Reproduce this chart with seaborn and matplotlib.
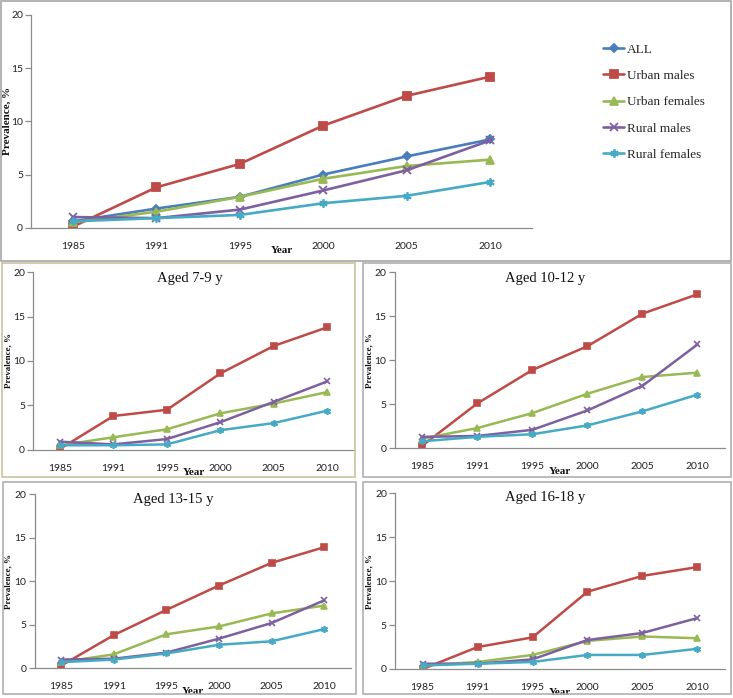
import numpy as np
import pandas as pd
import seaborn as sns
import matplotlib
matplotlib.use("Agg")
import matplotlib.pyplot as plt
from matplotlib.colors import to_hex
from matplotlib.patches import Rectangle

sns.set_theme(style="white")
plt.rcParams['font.family'] = ['Lato', 'DejaVu Sans']

years = ["1985", "1991", "1995", "2000", "2005", "2010"]
series = ["ALL", "Urban males", "Urban females", "Rural males", "Rural females"]

# Overall panel
all_total = [0.6, 1.8, 2.9, 5.0, 6.7, 8.3]
all_urban_m = [0.1, 3.8, 6.0, 9.6, 12.4, 14.2]
all_urban_f = [0.5, 1.5, 2.9, 4.6, 5.8, 6.4]
all_rural_m = [1.0, 0.9, 1.7, 3.5, 5.4, 8.2]
all_rural_f = [0.6, 0.9, 1.2, 2.3, 3.0, 4.3]

# Aged 7-9 y
a79_urban_m = [0.1, 3.8, 4.5, 8.6, 11.7, 13.8]
a79_urban_f = [0.5, 1.4, 2.3, 4.1, 5.2, 6.5]
a79_rural_m = [0.9, 0.6, 1.2, 3.1, 5.4, 7.7]
a79_rural_f = [0.5, 0.5, 0.6, 2.2, 3.0, 4.4]

# Aged 10-12 y
a1012_urban_m = [0.3, 5.1, 8.9, 11.6, 15.3, 17.5]
a1012_urban_f = [1.1, 2.3, 4.0, 6.2, 8.1, 8.6]
a1012_rural_m = [1.3, 1.4, 2.1, 4.3, 7.1, 11.8]
a1012_rural_f = [0.8, 1.3, 1.6, 2.6, 4.2, 6.1]

# Aged 13-15 y
a1315_urban_m = [0.3, 3.8, 6.7, 9.5, 12.1, 13.9]
a1315_urban_f = [0.7, 1.6, 3.9, 4.8, 6.3, 7.2]
a1315_rural_m = [1.0, 1.1, 1.8, 3.4, 5.2, 7.8]
a1315_rural_f = [0.7, 1.0, 1.7, 2.7, 3.1, 4.5]

# Aged 16-18 y
a1618_urban_m = [0.0, 2.5, 3.6, 8.8, 10.6, 11.6]
a1618_urban_f = [0.4, 0.8, 1.6, 3.2, 3.7, 3.5]
a1618_rural_m = [0.6, 0.6, 1.1, 3.3, 4.1, 5.8]
a1618_rural_f = [0.4, 0.6, 0.8, 1.6, 1.6, 2.3]

colors = {"ALL": "#4a7ebb", "Urban males": "#be4b48", "Urban females": "#98b954",
          "Rural males": "#7d60a0", "Rural females": "#46aac5"}
markers = {"ALL": "D", "Urban males": "s", "Urban females": "^",
           "Rural males": "x", "Rural females": (6, 2, 0)}
msize_scale = {"ALL": 0.72, "Urban males": 1.0, "Urban females": 1.0,
               "Rural males": 1.0, "Rural females": 1.0}

W, H = 733, 698
fig = plt.figure(figsize=(W / 100, H / 100), dpi=100)


def px_axes(left, right, top, bottom):
    return fig.add_axes([left / W, 1 - bottom / H, (right - left) / W, (bottom - top) / H])


def make_df(d):
    rows = []
    for name, vals in d.items():
        for y, v in zip(years, vals):
            rows.append({"Year": y, "Prevalence": v, "Series": name})
    return pd.DataFrame(rows)


def resize_markers(ax, base, extra=()):
    color_to_name = {to_hex(c): n for n, c in colors.items()}
    for ln in list(ax.lines) + list(extra):
        name = color_to_name.get(to_hex(ln.get_color()))
        if name is not None:
            ln.set_markersize(base * msize_scale[name])


def style_axes(ax, ylab_size, xlab_pad, ylab_x):
    ax.set_xlim(-0.5, 5.5)
    ax.set_ylim(0, 20)
    ax.set_yticks([0, 5, 10, 15, 20])
    for s in ["top", "right"]:
        ax.spines[s].set_visible(False)
    for s in ["left", "bottom"]:
        ax.spines[s].set_color("#8c8c8c")
        ax.spines[s].set_linewidth(0.9)
    ax.set_xticks(range(6))
    ax.set_xticklabels(years)
    ax.set_xticks(np.arange(-0.5, 6, 1), minor=True)
    ax.tick_params(axis="x", which="major", length=0, pad=10, labelsize=7.5, labelcolor="#222222")
    ax.tick_params(axis="x", which="minor", length=4, color="#8c8c8c", width=0.9, direction="out")
    ax.tick_params(axis="y", which="major", length=4, color="#8c8c8c", width=0.9, direction="out",
                   labelsize=7.5, labelcolor="#222222", pad=2, left=True)
    ax.set_xlabel("Year", fontfamily="Liberation Serif", fontweight="bold", fontsize=8,
                  labelpad=xlab_pad, color="#111111")
    ax.set_ylabel("Prevalence, %", fontfamily="Liberation Serif", fontweight="bold",
                  fontsize=ylab_size, color="#111111")
    ax.yaxis.set_label_coords(ylab_x, 0.5)
    ax.set_facecolor("none")


# Top panel
ax0 = px_axes(31.3, 531.7, 15, 227.7)
df0 = make_df({"ALL": all_total, "Urban males": all_urban_m, "Urban females": all_urban_f,
               "Rural males": all_rural_m, "Rural females": all_rural_f})
sns.pointplot(data=df0, x="Year", y="Prevalence", hue="Series", hue_order=series,
              order=years, palette=colors, markers=[markers[s] for s in series],
              linestyles="-", errorbar=None, ax=ax0, markersize=6, linewidth=1.9,
              markeredgewidth=1.3)
handles, labels = ax0.get_legend_handles_labels()
resize_markers(ax0, 6, handles)
if ax0.get_legend() is not None:
    ax0.get_legend().remove()
style_axes(ax0, 8, -3, (12 - 31.3) / 500.4)
fig.legend(handles, labels, loc="upper left", bbox_to_anchor=(598 / W, 1 - 38 / H),
           frameon=False, prop={"family": "Liberation Serif", "size": 9.5},
           handlelength=1.6, handletextpad=0.2, labelspacing=1.07, borderaxespad=0)

panels = [
    ("Aged 7-9 y", (33.3, 354, 272.3, 449.7), 0.489,
     [a79_urban_m, a79_urban_f, a79_rural_m, a79_rural_f], 0.966),
    ("Aged 10-12 y", (394.7, 725, 272.3, 448.3), 0.455,
     [a1012_urban_m, a1012_urban_f, a1012_rural_m, a1012_rural_f], 0.966),
    ("Aged 13-15 y", (34.7, 350.6, 494, 668.3), 0.438,
     [a1315_urban_m, a1315_urban_f, a1315_rural_m, a1315_rural_f], 0.97),
    ("Aged 16-18 y", (395.2, 724.8, 493.3, 669), 0.454,
     [a1618_urban_m, a1618_urban_f, a1618_rural_m, a1618_rural_f], 0.975),
]
sub_series = series[1:]
for title, (l, r, t, b), tx, vals, ty in panels:
    ax = px_axes(l, r, t, b)
    df = make_df(dict(zip(sub_series, vals)))
    sns.pointplot(data=df, x="Year", y="Prevalence", hue="Series", hue_order=sub_series,
                  order=years, palette=colors, markers=[markers[s] for s in sub_series],
                  linestyles="-", errorbar=None, ax=ax, markersize=5, linewidth=1.8,
                  markeredgewidth=1.2, legend=False)
    style_axes(ax, 6.5, -3, ((12 if l < 100 else 373) - l) / (r - l))
    ax.text(tx, ty, title, transform=ax.transAxes, ha="center", va="center",
            fontfamily="Liberation Serif", fontsize=10.5, color="#111111")

# Panel frames
def frame(x0, y0, x1, y1, color):
    fig.add_artist(Rectangle((x0 / W, 1 - y1 / H), (x1 - x0) / W, (y1 - y0) / H,
                             transform=fig.transFigure, fill=False, ec=color, lw=1.2))

frame(1, 0.5, 731, 261, "#a6a6a6")
frame(2, 263, 355, 477, "#c9c3a0")
frame(363, 263, 731, 477, "#b0b0b0")
frame(3, 482, 356, 694, "#b0b0b0")
frame(363, 482, 731, 694, "#b0b0b0")

fig.savefig("out.png", dpi=100)
